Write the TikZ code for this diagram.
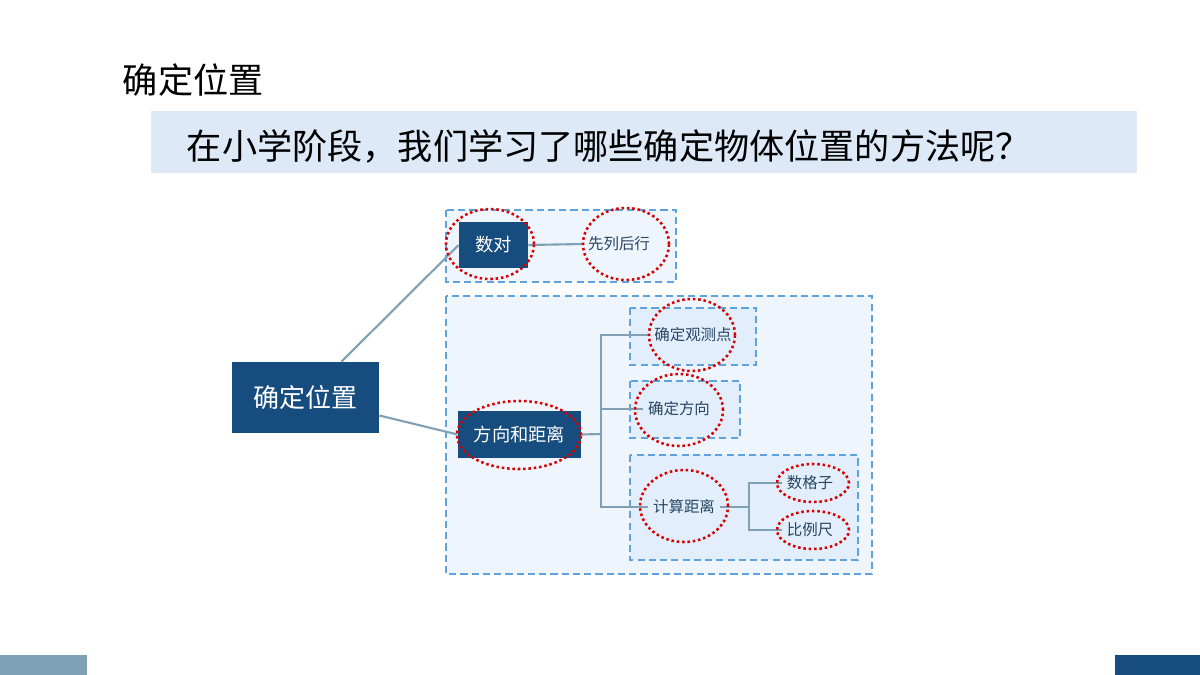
\documentclass[tikz,border=0pt]{standalone}
\usepackage{fontspec}
\setmainfont{Noto Sans CJK SC}
\usepackage{tikz}
\usetikzlibrary{positioning, shapes.geometric, calc}

\definecolor{navy}{RGB}{22,76,126}
\definecolor{bannerblue}{RGB}{221,233,246}
\definecolor{dashblue}{RGB}{95,163,222}
\definecolor{linegray}{RGB}{128,160,182}
\definecolor{panel}{RGB}{238,245,253}
\definecolor{panelin}{RGB}{226,238,251}
\definecolor{textblue}{RGB}{40,70,100}

\begin{document}
\begin{tikzpicture}[x=0.025cm, y=-0.025cm,
    group/.style={draw=dashblue, line width=1.2pt, dash pattern=on 5pt off 3pt},
    mainbox/.style={rectangle, fill=navy, text=white, inner sep=0pt},
    leaf/.style={font=\fontsize{11}{13}\selectfont, text=textblue},
    ring/.style={ellipse, draw=red!85!black, line width=1.8pt, dotted, inner sep=0pt},
    link/.style={draw=linegray, line width=1.5pt}
]
    \useasboundingbox (0,0) rectangle (1200,675);
    \fill[white] (0,0) rectangle (1200,675);

    % === Title and banner ===
    \node[font=\fontsize{25}{28}\selectfont, anchor=west] (title) at (118,80) {确定位置};
    \fill[bannerblue] (151,111) rectangle (1137,173);
    \node[font=\fontsize{25}{28}\selectfont, anchor=west] (question) at (182,146) {在小学阶段，我们学习了哪些确定物体位置的方法呢？};
    \fill[linegray] (0,655) rectangle (87,675);
    \fill[navy] (1115,655) rectangle (1200,675);

    % === Group boxes ===
    \filldraw[group, fill=panel] (446,210) rectangle (676,282);
    \filldraw[group, fill=panel] (446,296) rectangle (872,574);
    \filldraw[group, fill=panelin] (630,308) rectangle (756,365);
    \filldraw[group, fill=panelin] (630,381) rectangle (740,438);
    \filldraw[group, fill=panelin] (630,455) rectangle (858,560);

    % === Nodes ===
    \node[mainbox, minimum width=3.68cm, minimum height=1.78cm,
          font=\fontsize{18.5}{21}\selectfont] (root) at (305.5,397.5) {确定位置};
    \node[mainbox, minimum width=1.73cm, minimum height=1.15cm,
          font=\fontsize{13}{15}\selectfont] (pair) at (493.5,245) {数对};
    \node[mainbox, minimum width=3.08cm, minimum height=1.18cm,
          font=\fontsize{13}{15}\selectfont] (dirdist) at (519.5,434.5) {方向和距离};
    \node[leaf] (colrow) at (619,244) {先列后行};
    \node[leaf] (observe) at (693,335) {确定观测点};
    \node[leaf] (direction) at (679,409) {确定方向};
    \node[leaf] (distance) at (684,507) {计算距离};
    \node[leaf] (grid) at (810,483) {数格子};
    \node[leaf] (scale) at (810,530) {比例尺};
    \coordinate (trunk) at (601,434);
    \coordinate (fork) at (749,507);

    % === Connectors ===
    \draw[link] ($(root.north)+(36,0)$) -- (pair.west);
    \draw[link] ($(root.east)+(0,18)$) -- (dirdist.west);
    \draw[link] (pair.east) -- (colrow.west);
    \draw[link] (dirdist.east) -- (trunk);
    \draw[link] (observe.west) -| (trunk) |- (distance.west);
    \draw[link] (trunk) |- (direction.west);
    \draw[link] (distance.east) -- (fork);
    \draw[link] (grid.west) -| (fork) |- (scale.west);

    % === Red dotted rings ===
    \node[ring, minimum width=2.2cm, minimum height=1.75cm] (r1) at (490,244) {};
    \node[ring, minimum width=2.15cm, minimum height=1.8cm] (r2) at (626,244) {};
    \node[ring, minimum width=3.1cm, minimum height=1.7cm] (r3) at (519,435) {};
    \node[ring, minimum width=2.15cm, minimum height=1.8cm] (r4) at (692,335) {};
    \node[ring, minimum width=2.2cm, minimum height=1.8cm] (r5) at (679,410) {};
    \node[ring, minimum width=2.2cm, minimum height=1.8cm] (r6) at (684,506) {};
    \node[ring, minimum width=1.8cm, minimum height=0.95cm] (r7) at (813,483) {};
    \node[ring, minimum width=1.8cm, minimum height=0.95cm] (r8) at (813,530) {};
\end{tikzpicture}
\end{document}
